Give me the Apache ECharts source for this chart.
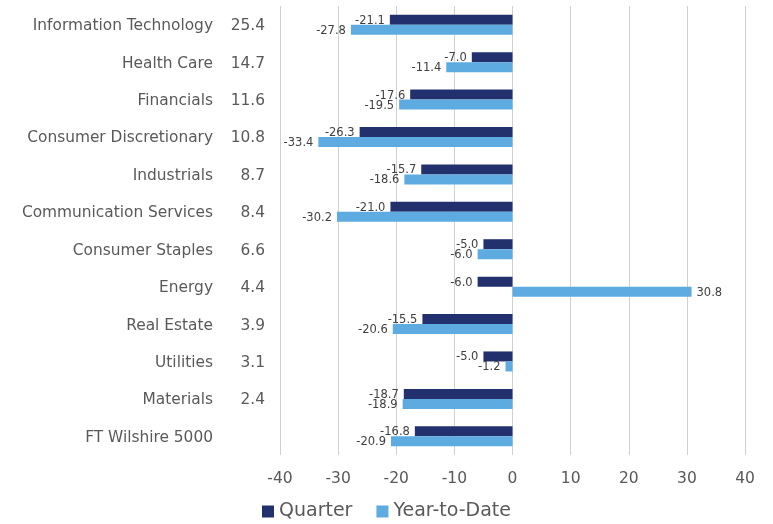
<!DOCTYPE html>
<html>
<head>
<meta charset="utf-8">
<script src="https://cdn.jsdelivr.net/npm/echarts@6/dist/echarts.min.js"></script>
<style>
  html, body { margin: 0; padding: 0; background: #fff; }
  #chart { width: 773px; height: 524px; }
</style>
</head>
<body>
<div id="chart"></div>
<script>
const sectors = ['Information Technology', 'Health Care', 'Financials', 'Consumer Discretionary',
  'Industrials', 'Communication Services', 'Consumer Staples', 'Energy', 'Real Estate',
  'Utilities', 'Materials', 'FT Wilshire 5000']
const weights = ['25.4', '14.7', '11.6', '10.8', '8.7', '8.4', '6.6', '4.4', '3.9', '3.1', '2.4', '']
const quarter = [-21.1, -7.0, -17.6, -26.3, -15.7, -21.0, -5.0, -6.0, -15.5, -5.0, -18.7, -16.8]
const ytd = [-27.8, -11.4, -19.5, -33.4, -18.6, -30.2, -6.0, 30.8, -20.6, -1.2, -18.9, -20.9]
const xTicks = [-40, -30, -20, -10, 0, 10, 20, 30, 40]

const chart = echarts.init(document.getElementById('chart'))

const toItems = (arr) => arr.map(v => ({
  value: v,
  label: { position: v < 0 ? 'left' : 'right' }
}))

const makeSeries = (name, arr, color) => ({
  name: name,
  type: 'bar',
  data: toItems(arr),
  barWidth: 10,
  barGap: '0%',
  itemStyle: { color: color },
  label: {
    show: true,
    distance: 5,
    fontSize: 11.5,
    color: '#404040',
    fontFamily: 'DejaVu Sans',
    offset: [0, 1],
    formatter: (p) => p.value.toFixed(1)
  }
})

chart.setOption({
  animation: false,
  textStyle: { fontFamily: 'DejaVu Sans' },
  grid: { left: 280, right: 28, top: 6, bottom: 69 },
  xAxis: {
    type: 'value',
    min: xTicks[0],
    max: xTicks[xTicks.length - 1],
    interval: 10,
    axisLine: { show: false },
    axisTick: { show: false },
    splitLine: { lineStyle: { color: '#d0d0d0', width: 1 } },
    axisLabel: { color: '#595959', fontSize: 15.5, margin: 16 }
  },
  yAxis: {
    type: 'category',
    data: sectors,
    inverse: true,
    axisLine: { show: false, onZero: false },
    axisTick: { show: false },
    axisLabel: {
      margin: 15,
      color: '#595959',
      fontSize: 15.4,
      formatter: (val, i) => '{n|' + val + '}{w|' + weights[i] + '}',
      rich: {
        n: { fontSize: 15.4, color: '#595959', fontFamily: 'DejaVu Sans', padding: [3, 0, 0, 0] },
        w: { fontSize: 15.4, color: '#595959', fontFamily: 'DejaVu Sans', width: 52, align: 'right', padding: [3, 0, 0, 0] }
      }
    }
  },
  legend: {
    top: 497,
    left: 'center',
    itemWidth: 12,
    itemHeight: 12,
    itemGap: 24,
    icon: 'rect',
    textStyle: { fontSize: 19, color: '#595959' },
    data: ['Quarter', 'Year-to-Date']
  },
  series: [
    makeSeries('Quarter', quarter, '#22306e'),
    makeSeries('Year-to-Date', ytd, '#5dabe0')
  ]
})
</script>
</body>
</html>
